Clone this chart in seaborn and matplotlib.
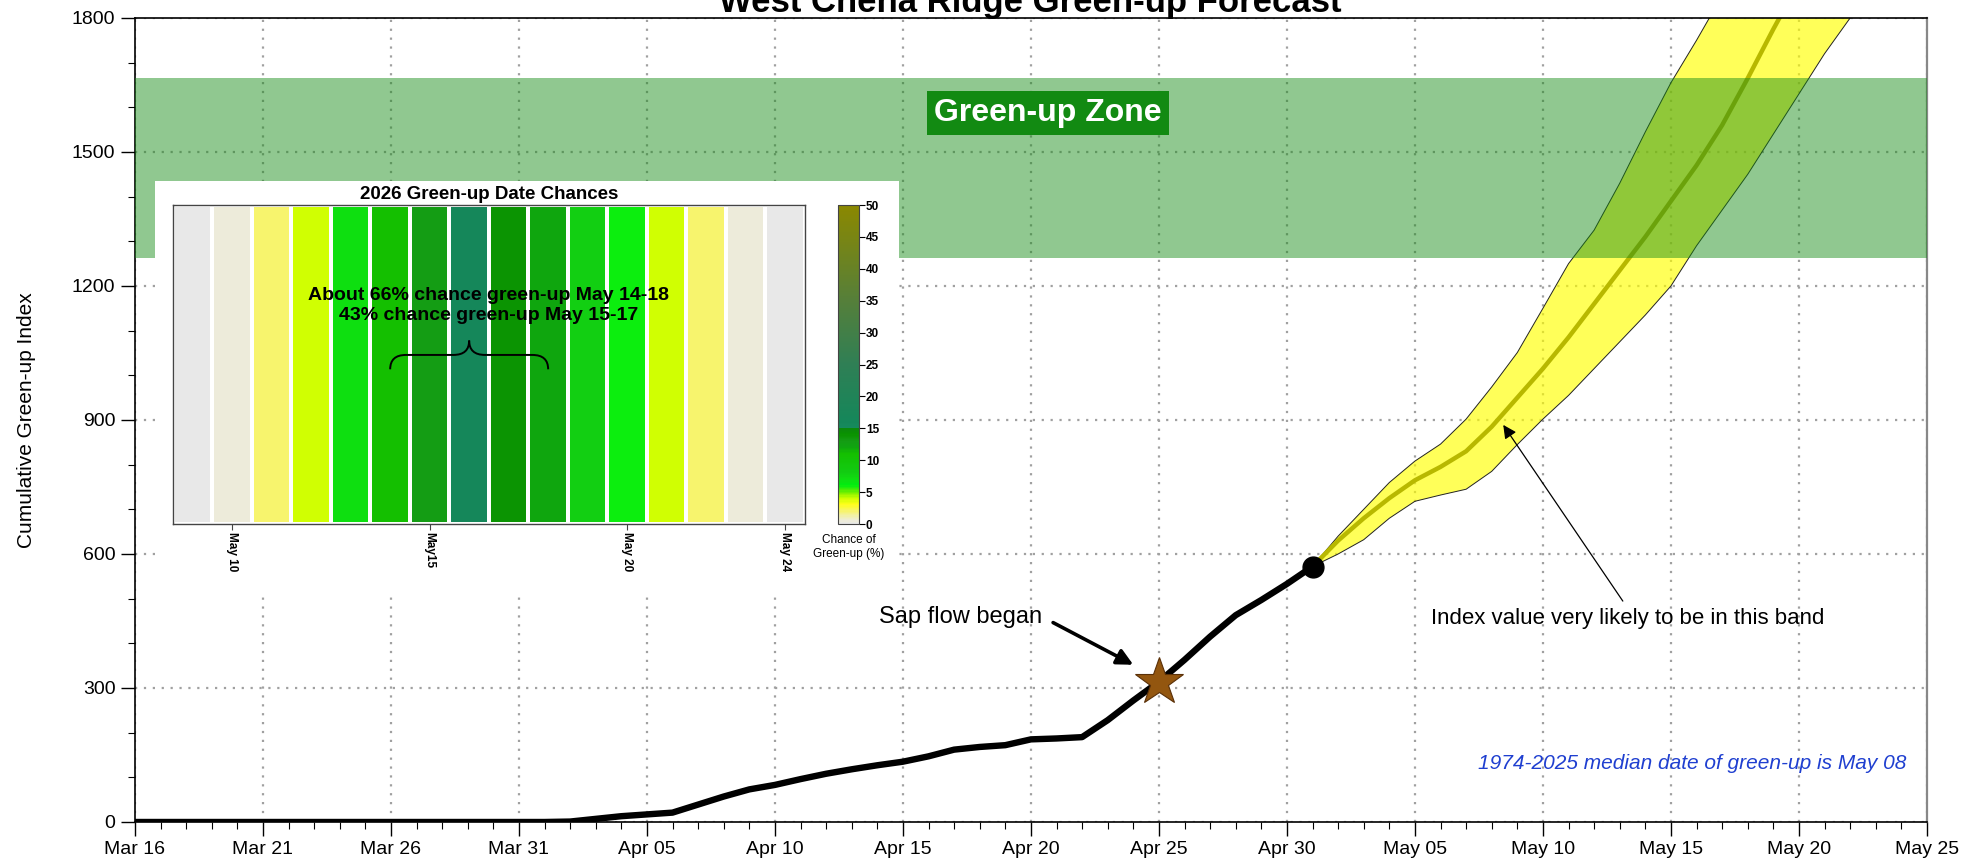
import matplotlib
matplotlib.use("Agg")
import matplotlib.pyplot as plt
import matplotlib.dates as mdates
from matplotlib.colors import LinearSegmentedColormap
from matplotlib.path import Path
from matplotlib.patches import PathPatch, Rectangle
import seaborn as sns
import pandas as pd
import numpy as np

# observed cumulative green-up index, daily from Mar 16 to May 1
obs_start = "2026-03-16"
obs_index = [0, 0, 0, 0, 0, 0, 0, 0, 0, 0, 0, 0, 0, 0, 0, 0, 0,
             1, 7, 13, 17, 21, 39, 57, 73, 83, 96, 108, 118, 127, 135,
             147, 162, 168, 172, 185, 187, 190, 228, 272, 314, 363, 415,
             463, 497, 533, 572]

# forecast from May 1 onward (median and likely band)
fc_start = "2026-05-01"
fc_median = [572, 630, 680, 725, 765, 795, 830, 885, 950, 1015, 1085, 1160,
             1235, 1310, 1390, 1470, 1560, 1665, 1775, 1880]
fc_upper = [572, 640, 700, 760, 808, 846, 902, 974, 1051, 1150, 1250, 1325,
            1430, 1545, 1655, 1750, 1850]
fc_lower = [572, 600, 632, 680, 718, 732, 745, 785, 845, 902, 955, 1015,
            1075, 1135, 1200, 1290, 1370, 1450, 1540, 1630, 1720, 1800, 1890]

sap_date = "2026-04-25"
sap_value = 314
zone_low, zone_high = 1262, 1666

# inset: chance of green-up on each date (%)
heat_days = [9, 10, 11, 12, 13, 14, 15, 16, 17, 18, 19, 20, 21, 22, 23, 24]
heat_chance = [0, 0.5, 2, 4, 7, 11, 13, 16, 14, 12, 8, 6, 4, 2, 0.5, 0]
heat_tick_days = [10, 15, 20, 24]
heat_tick_labels = ["May 10", "May15", "May 20", "May 24"]

sns.set_style("white")
plt.rcParams["font.family"] = ["Liberation Sans", "DejaVu Sans"]
plt.rcParams["text.color"] = "black"
plt.rcParams["axes.labelcolor"] = "black"
plt.rcParams["xtick.color"] = "black"
plt.rcParams["ytick.color"] = "black"

fig = plt.figure(figsize=(19.81, 8.61), dpi=100)
ax = fig.add_axes([0.0681, 0.0453, 0.9046, 0.9338])

t0 = pd.Timestamp(obs_start)
obs_dates = pd.date_range(obs_start, periods=len(obs_index), freq="D")
med_dates = pd.date_range(fc_start, periods=len(fc_median), freq="D")
up_dates = pd.date_range(fc_start, periods=len(fc_upper), freq="D")
lo_dates = pd.date_range(fc_start, periods=len(fc_lower), freq="D")

# likely band
band_x = np.concatenate([mdates.date2num(up_dates), mdates.date2num(lo_dates)[::-1]])
band_y = np.concatenate([fc_upper, fc_lower[::-1]])
ax.fill(band_x, band_y, color="#ffff00", alpha=0.65, lw=0, zorder=2)
ax.plot(up_dates, fc_upper, color="#222222", lw=0.7, zorder=2.2)
ax.plot(lo_dates, fc_lower, color="#222222", lw=0.7, zorder=2.2)
sns.lineplot(x=med_dates, y=fc_median, ax=ax, color="#b8b800", lw=3.2, zorder=2.5)

# green-up zone
ax.axhspan(zone_low, zone_high, color="#188c18", alpha=0.48, lw=0, zorder=3)

# observed
sns.lineplot(x=obs_dates, y=obs_index, ax=ax, color="black", lw=4.6, zorder=4)
ax.plot(obs_dates[-1], obs_index[-1], marker="o", ms=15, color="black", zorder=5)
ax.plot(pd.Timestamp(sap_date), sap_value, marker="*", ms=36, color="#93560f",
        mec="#5a3008", mew=0.8, zorder=5)

ax.set_xlim(t0, pd.Timestamp("2026-05-25"))
ax.set_ylim(0, 1800)
ax.set_xticks(pd.date_range(obs_start, "2026-05-25", freq="5D"))
ax.xaxis.set_major_formatter(mdates.DateFormatter("%b %d"))
ax.xaxis.set_minor_locator(mdates.DayLocator())
ax.set_yticks(range(0, 1801, 300))
ax.set_yticks(range(0, 1801, 100), minor=True)
ax.tick_params(which="major", length=10, width=1, direction="out", labelsize=14, pad=4)
ax.tick_params(which="minor", length=5, width=0.8, direction="out")
ax.tick_params(axis="x", which="both", bottom=True)
ax.tick_params(axis="y", which="both", left=True)
ax.grid(True, which="major", color="#a0a0a0", linestyle=(0, (1, 3)), linewidth=1.6)
ax.set_axisbelow(True)
ax.set_xlabel("")
ax.set_ylabel("Cumulative Green-up Index", fontsize=15)
ax.yaxis.set_label_coords(-0.055, 0.5)
for side in ["left", "bottom", "top"]:
    ax.spines[side].set_color("black")
    ax.spines[side].set_linewidth(1.2)
ax.spines["right"].set_color("#888888")
ax.spines["right"].set_linewidth(1.6)

fig.text(0.52, 0.9866, "West Chena Ridge Green-up Forecast", ha="center",
         va="baseline", fontsize=25, fontweight="bold")

ax.text(t0 + pd.Timedelta(hours=35.67 * 24), 1588, "Green-up Zone", fontsize=23,
        fontweight="bold", color="white", ha="center", va="center", zorder=7,
        bbox=dict(boxstyle="square,pad=0.22", facecolor="#128a12", edgecolor="none"))

ax.annotate("Sap flow began", xy=(t0 + pd.Timedelta(hours=39.0 * 24), 352),
            xytext=(t0 + pd.Timedelta(hours=35.45 * 24), 459), ha="right", va="center",
            fontsize=17, zorder=7,
            arrowprops=dict(arrowstyle="-|>", color="black", lw=2.6, mutation_scale=24,
                            relpos=(1, 0.5), shrinkA=6, shrinkB=0))

ax.annotate("Index value very likely to be in this band",
            xy=(t0 + pd.Timedelta(hours=53.45 * 24), 889),
            xytext=(t0 + pd.Timedelta(hours=58.3 * 24), 456), ha="center", va="center",
            fontsize=16, zorder=7,
            arrowprops=dict(arrowstyle="-|>", color="black", lw=0.9, mutation_scale=20,
                            relpos=(0.5, 1), shrinkA=3, shrinkB=0))

ax.text(t0 + pd.Timedelta(hours=69.2 * 24), 130,
        "1974-2025 median date of green-up is May 08", ha="right", va="center",
        fontsize=15, style="italic", color="#1f3fd0", zorder=7)

# white panel behind inset
ax.add_patch(Rectangle((0.0782, 0.310), 0.3756, 0.4797, transform=fig.transFigure,
                       facecolor="white", edgecolor="none", zorder=6, clip_on=False))

# inset heatmap
cmap_nodes = [(0, "#e8e8e8"), (0.5, "#eeecd6"), (1, "#f0efb8"), (2, "#f7f46a"),
              (3, "#ffff1a"), (4, "#ccff00"), (5, "#66ee00"), (6, "#00ee10"),
              (7, "#10dd10"), (8, "#12cc12"), (11, "#14bf00"), (12, "#0fa50f"),
              (13, "#149c14"), (14, "#0a9300"), (14.95, "#0b880b"), (15, "#178a5e"),
              (16, "#15875a"), (25, "#2f7f55"), (35, "#557f3a"), (50, "#8b8800")]
cmap = LinearSegmentedColormap.from_list("greenup", [(v / 50, c) for v, c in cmap_nodes])

hax = fig.add_axes([0.0873, 0.3914, 0.319, 0.3705])
cax = fig.add_axes([0.423, 0.3914, 0.0106, 0.3705])
sns.heatmap(np.array([heat_chance]), ax=hax, cbar_ax=cax, cmap=cmap, vmin=0, vmax=50,
            linewidths=2.6, linecolor="white", xticklabels=False, yticklabels=False,
            cbar_kws={"ticks": list(range(0, 51, 5))})
for s in hax.spines.values():
    s.set_visible(True)
    s.set_color("#444444")
    s.set_linewidth(1)
hax.set_xticks([heat_days.index(d) + 0.5 for d in heat_tick_days])
hax.set_xticklabels(heat_tick_labels, rotation=270, fontsize=8.5, fontweight="bold")
hax.tick_params(axis="x", bottom=True, length=4, width=0.8, color="#444444", pad=2)
hax.set_title("2026 Green-up Date Chances", fontsize=13.5, fontweight="bold", pad=4)
hax.text(8.0, 0.315, "About 66% chance green-up May 14-18\n43% chance green-up May 15-17",
         ha="center", va="center", fontsize=14, fontweight="bold", linespacing=1.25)

# brace under the text (May 14 to May 18)
brace = Path([(5.5, 0.515), (5.5, 0.47), (5.9, 0.47), (7.1, 0.47), (7.5, 0.47),
              (7.5, 0.425), (7.5, 0.47), (7.9, 0.47), (9.1, 0.47), (9.5, 0.47),
              (9.5, 0.515)],
             [Path.MOVETO, Path.CURVE3, Path.CURVE3, Path.LINETO, Path.CURVE3,
              Path.CURVE3, Path.CURVE3, Path.CURVE3, Path.LINETO, Path.CURVE3,
              Path.CURVE3])
hax.add_patch(PathPatch(brace, facecolor="none", edgecolor="black", lw=1.4))

cbar = hax.collections[0].colorbar
cbar.outline.set_edgecolor("#444444")
cbar.outline.set_linewidth(0.8)
cax.tick_params(labelsize=8.5, length=4, width=0.8, right=True, pad=1)
for lbl in cax.get_yticklabels():
    lbl.set_fontweight("bold")
cax.set_xlabel("Chance of\nGreen-up (%)", fontsize=8.5, labelpad=7)

fig.savefig("out.png", dpi=100)
